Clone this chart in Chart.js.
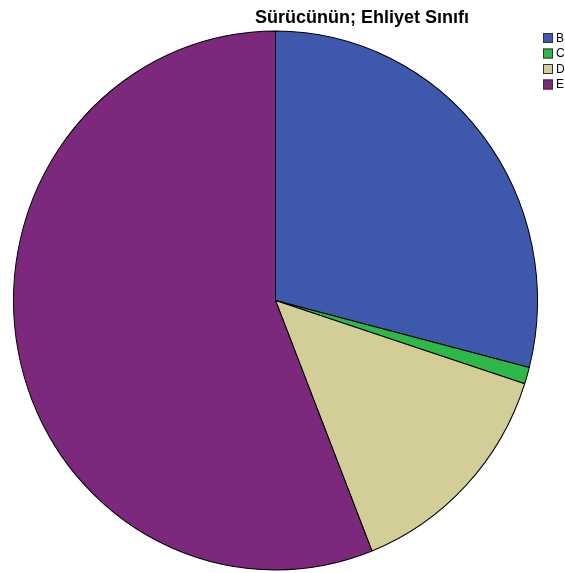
<!DOCTYPE html>
<html>
<head>
<meta charset="utf-8">
<script src="https://cdn.jsdelivr.net/npm/chart.js@4"></script>
<style>
  html, body { margin: 0; padding: 0; background: #fff; }
  #wrap { width: 565px; height: 573px; position: relative; }
</style>
</head>
<body>
<div id="wrap"><canvas id="pieChart" width="565" height="573"></canvas></div>
<script>
// Sürücünün ehliyet sınıfı (percent)
const categories = ['B', 'C', 'D', 'E'];
const shares = [29, 1, 14, 56];
const sliceColors = ['#3E58AC', '#2EB848', '#D3CE97', '#7C287D'];
const titleText = 'Sürücünün; Ehliyet Sınıfı';

// SPSS draws the pie a little taller than wide
const stretchY = 270 / 262.5;

const ellipsePlugin = {
    id: 'ellipse',
    beforeDatasetsDraw(chart) {
        const a = chart.chartArea;
        const cy = (a.top + a.bottom) / 2;
        const ctx = chart.ctx;
        ctx.save();
        ctx.translate(0, cy);
        ctx.scale(1, stretchY);
        ctx.translate(0, -cy);
    },
    afterDatasetsDraw(chart) {
        chart.ctx.restore();
    }
};

const titleLegendPlugin = {
    id: 'titleLegend',
    afterDraw(chart) {
        const ctx = chart.ctx;
        ctx.save();
        // title
        ctx.fillStyle = '#000';
        ctx.font = 'bold 18px "Liberation Sans", Arial, sans-serif';
        ctx.textAlign = 'center';
        ctx.textBaseline = 'alphabetic';
        ctx.fillText(titleText, 362, 23);

        // legend in the top right corner
        ctx.font = '12px "Liberation Sans", Arial, sans-serif';
        ctx.textAlign = 'left';
        ctx.textBaseline = 'middle';
        const ds = chart.data.datasets[0];
        chart.data.labels.forEach((label, i) => {
            const y = 33 + i * 15.5;
            ctx.fillStyle = ds.backgroundColor[i];
            ctx.fillRect(543, y, 10, 10);
            ctx.strokeStyle = '#333';
            ctx.lineWidth = 1;
            ctx.strokeRect(543.5, y + 0.5, 9, 9);
            ctx.fillStyle = '#000';
            ctx.fillText(label, 556, y + 5.5);
        });
        ctx.restore();
    }
};

new Chart(document.getElementById('pieChart'), {
    type: 'pie',
    data: {
        labels: categories,
        datasets: [{
            data: shares,
            backgroundColor: sliceColors,
            borderColor: '#000',
            borderWidth: 1,
            borderAlign: 'center'
        }]
    },
    options: {
        responsive: false,
        animation: false,
        layout: {
            padding: { left: 13, right: 27, top: 38, bottom: 10 }
        },
        plugins: {
            legend: { display: false },
            title: { display: false },
            tooltip: { enabled: false }
        }
    },
    plugins: [ellipsePlugin, titleLegendPlugin]
});
</script>
</body>
</html>
